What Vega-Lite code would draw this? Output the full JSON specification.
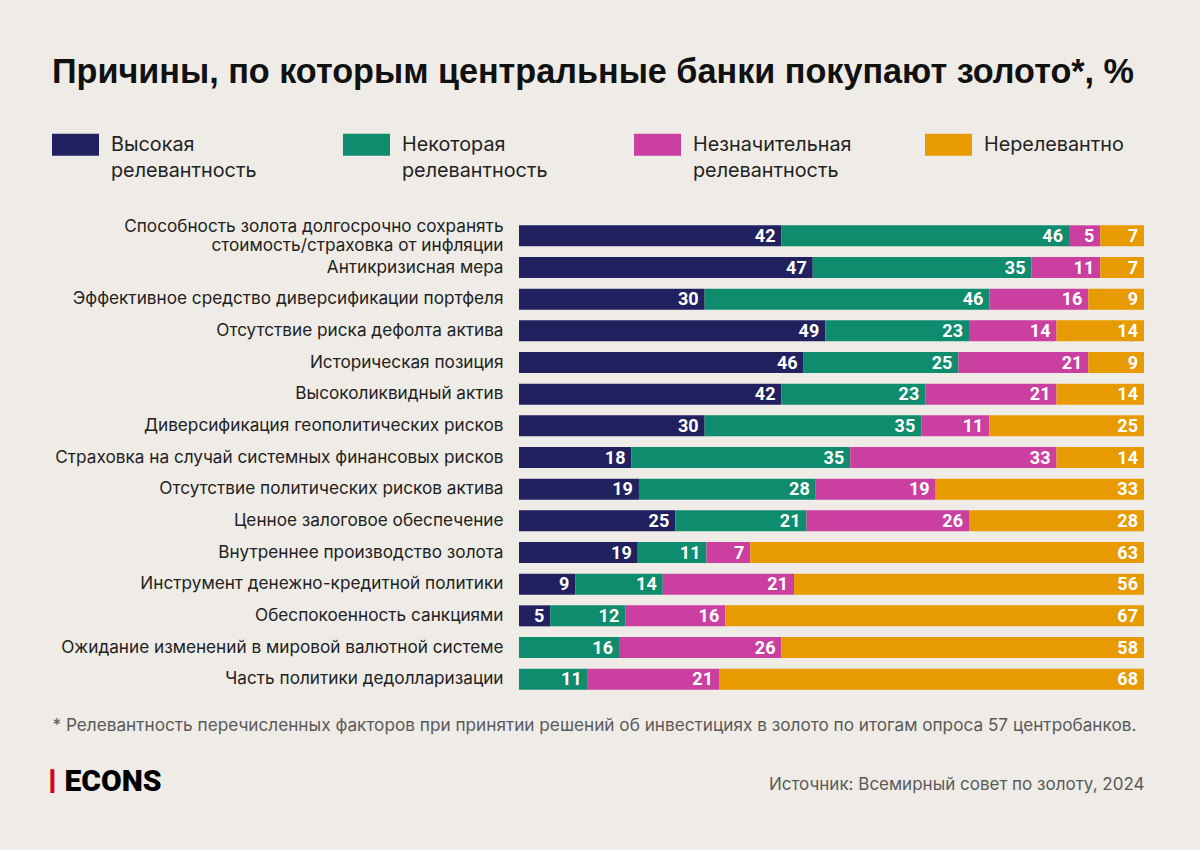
{
  "$schema": "https://vega.github.io/schema/vega-lite/v6.json",
  "width": 625,
  "height": 475,
  "autosize": {"type": "none"},
  "padding": {"left": 519, "top": 220, "right": 56, "bottom": 155},
  "background": "#efece7",
  "config": {"view": {"stroke": null}, "font": "Inter", "style": {"guide-label": {"lineHeight": 26}}},
  "title": {
    "text": "Причины, по которым центральные банки покупают золото*, %",
    "anchor": "start",
    "frame": "group",
    "dx": -467,
    "offset": 31,
    "fontSize": 34.2,
    "font": "Liberation Sans",
    "fontWeight": 700,
    "color": "#111111"
  },
  "data": {
    "values": [
      {"q": "Способность золота долгосрочно сохранять стоимость/страховка от инфляции", "c": "Высокая релевантность", "k": 1, "v": 42},
      {"q": "Способность золота долгосрочно сохранять стоимость/страховка от инфляции", "c": "Некоторая релевантность", "k": 2, "v": 46},
      {"q": "Способность золота долгосрочно сохранять стоимость/страховка от инфляции", "c": "Незначительная релевантность", "k": 3, "v": 5},
      {"q": "Способность золота долгосрочно сохранять стоимость/страховка от инфляции", "c": "Нерелевантно", "k": 4, "v": 7},
      {"q": "Антикризисная мера", "c": "Высокая релевантность", "k": 1, "v": 47},
      {"q": "Антикризисная мера", "c": "Некоторая релевантность", "k": 2, "v": 35},
      {"q": "Антикризисная мера", "c": "Незначительная релевантность", "k": 3, "v": 11},
      {"q": "Антикризисная мера", "c": "Нерелевантно", "k": 4, "v": 7},
      {"q": "Эффективное средство диверсификации портфеля", "c": "Высокая релевантность", "k": 1, "v": 30},
      {"q": "Эффективное средство диверсификации портфеля", "c": "Некоторая релевантность", "k": 2, "v": 46},
      {"q": "Эффективное средство диверсификации портфеля", "c": "Незначительная релевантность", "k": 3, "v": 16},
      {"q": "Эффективное средство диверсификации портфеля", "c": "Нерелевантно", "k": 4, "v": 9},
      {"q": "Отсутствие риска дефолта актива", "c": "Высокая релевантность", "k": 1, "v": 49},
      {"q": "Отсутствие риска дефолта актива", "c": "Некоторая релевантность", "k": 2, "v": 23},
      {"q": "Отсутствие риска дефолта актива", "c": "Незначительная релевантность", "k": 3, "v": 14},
      {"q": "Отсутствие риска дефолта актива", "c": "Нерелевантно", "k": 4, "v": 14},
      {"q": "Историческая позиция", "c": "Высокая релевантность", "k": 1, "v": 46},
      {"q": "Историческая позиция", "c": "Некоторая релевантность", "k": 2, "v": 25},
      {"q": "Историческая позиция", "c": "Незначительная релевантность", "k": 3, "v": 21},
      {"q": "Историческая позиция", "c": "Нерелевантно", "k": 4, "v": 9},
      {"q": "Высоколиквидный актив", "c": "Высокая релевантность", "k": 1, "v": 42},
      {"q": "Высоколиквидный актив", "c": "Некоторая релевантность", "k": 2, "v": 23},
      {"q": "Высоколиквидный актив", "c": "Незначительная релевантность", "k": 3, "v": 21},
      {"q": "Высоколиквидный актив", "c": "Нерелевантно", "k": 4, "v": 14},
      {"q": "Диверсификация геополитических рисков", "c": "Высокая релевантность", "k": 1, "v": 30},
      {"q": "Диверсификация геополитических рисков", "c": "Некоторая релевантность", "k": 2, "v": 35},
      {"q": "Диверсификация геополитических рисков", "c": "Незначительная релевантность", "k": 3, "v": 11},
      {"q": "Диверсификация геополитических рисков", "c": "Нерелевантно", "k": 4, "v": 25},
      {"q": "Страховка на случай системных финансовых рисков", "c": "Высокая релевантность", "k": 1, "v": 18},
      {"q": "Страховка на случай системных финансовых рисков", "c": "Некоторая релевантность", "k": 2, "v": 35},
      {"q": "Страховка на случай системных финансовых рисков", "c": "Незначительная релевантность", "k": 3, "v": 33},
      {"q": "Страховка на случай системных финансовых рисков", "c": "Нерелевантно", "k": 4, "v": 14},
      {"q": "Отсутствие политических рисков актива", "c": "Высокая релевантность", "k": 1, "v": 19},
      {"q": "Отсутствие политических рисков актива", "c": "Некоторая релевантность", "k": 2, "v": 28},
      {"q": "Отсутствие политических рисков актива", "c": "Незначительная релевантность", "k": 3, "v": 19},
      {"q": "Отсутствие политических рисков актива", "c": "Нерелевантно", "k": 4, "v": 33},
      {"q": "Ценное залоговое обеспечение", "c": "Высокая релевантность", "k": 1, "v": 25},
      {"q": "Ценное залоговое обеспечение", "c": "Некоторая релевантность", "k": 2, "v": 21},
      {"q": "Ценное залоговое обеспечение", "c": "Незначительная релевантность", "k": 3, "v": 26},
      {"q": "Ценное залоговое обеспечение", "c": "Нерелевантно", "k": 4, "v": 28},
      {"q": "Внутреннее производство золота", "c": "Высокая релевантность", "k": 1, "v": 19},
      {"q": "Внутреннее производство золота", "c": "Некоторая релевантность", "k": 2, "v": 11},
      {"q": "Внутреннее производство золота", "c": "Незначительная релевантность", "k": 3, "v": 7},
      {"q": "Внутреннее производство золота", "c": "Нерелевантно", "k": 4, "v": 63},
      {"q": "Инструмент денежно-кредитной политики", "c": "Высокая релевантность", "k": 1, "v": 9},
      {"q": "Инструмент денежно-кредитной политики", "c": "Некоторая релевантность", "k": 2, "v": 14},
      {"q": "Инструмент денежно-кредитной политики", "c": "Незначительная релевантность", "k": 3, "v": 21},
      {"q": "Инструмент денежно-кредитной политики", "c": "Нерелевантно", "k": 4, "v": 56},
      {"q": "Обеспокоенность санкциями", "c": "Высокая релевантность", "k": 1, "v": 5},
      {"q": "Обеспокоенность санкциями", "c": "Некоторая релевантность", "k": 2, "v": 12},
      {"q": "Обеспокоенность санкциями", "c": "Незначительная релевантность", "k": 3, "v": 16},
      {"q": "Обеспокоенность санкциями", "c": "Нерелевантно", "k": 4, "v": 67},
      {"q": "Ожидание изменений в мировой валютной системе", "c": "Некоторая релевантность", "k": 2, "v": 16},
      {"q": "Ожидание изменений в мировой валютной системе", "c": "Незначительная релевантность", "k": 3, "v": 26},
      {"q": "Ожидание изменений в мировой валютной системе", "c": "Нерелевантно", "k": 4, "v": 58},
      {"q": "Часть политики дедолларизации", "c": "Некоторая релевантность", "k": 2, "v": 11},
      {"q": "Часть политики дедолларизации", "c": "Незначительная релевантность", "k": 3, "v": 21},
      {"q": "Часть политики дедолларизации", "c": "Нерелевантно", "k": 4, "v": 68}
    ]
  },
  "transform": [
    {"stack": "v", "groupby": ["q"], "sort": [{"field": "k", "order": "ascending"}], "as": ["v0", "v1"], "offset": "normalize"}
  ],
  "layer": [
    {
      "mark": {"type": "bar"},
      "encoding": {
        "y": {
          "field": "q", "type": "nominal", "sort": null,
          "scale": {"paddingInner": 0.336, "paddingOuter": 0.168},
          "axis": {
            "orient": "left",
            "domain": false, "ticks": false, "grid": false,
            "labelFont": "Inter", "labelFontSize": 17.2, "labelColor": "#222222",
            "labelPadding": 16, "labelLimit": 520, "labelLineHeight": 19,
            "labelOffset": {"expr": "datum.value == 'Способность золота долгосрочно сохранять стоимость/страховка от инфляции' ? -9 : 0"},
            "labelExpr": "datum.label == 'Способность золота долгосрочно сохранять стоимость/страховка от инфляции' ? ['Способность золота долгосрочно сохранять', 'стоимость/страховка от инфляции'] : datum.label",
            "title": "ECONS",
            "titleAngle": 0, "titleX": -455, "titleY": 561,
            "titleAlign": "left", "titleBaseline": "middle",
            "titleFont": "Roboto", "titleFontSize": 30, "titleFontWeight": 900, "titleColor": "#000000"
          }
        },
        "x": {
          "field": "v0", "type": "quantitative",
          "scale": {"domain": [0, 1]},
          "axis": {
            "orient": "bottom",
            "labels": false, "ticks": false, "domain": false, "grid": false,
            "title": "* Релевантность перечисленных факторов при принятии решений об инвестициях в золото по итогам опроса 57 центробанков.",
            "titleX": -467, "titleY": 30, "titleAlign": "left", "titleAnchor": null,
            "titleBaseline": "middle", "titleFont": "Inter", "titleFontSize": 17.2,
            "titleFontWeight": "normal", "titleColor": "#5a5a5a"
          }
        },
        "x2": {"field": "v1"},
        "color": {
          "field": "c", "type": "nominal",
          "scale": {
            "domain": ["Высокая релевантность", "Некоторая релевантность", "Незначительная релевантность", "Нерелевантно"],
            "range": ["#222160", "#0f8b6d", "#ca3f9f", "#e89a01"]
          },
          "legend": {
            "orient": "none", "legendX": -467, "legendY": -99,
            "direction": "horizontal", "columns": 4, "gridAlign": "all", "columnPadding": 73,
            "title": null,
            "symbolType": "M-1,-0.468H1V0.468H-1Z", "symbolSize": 2209, "symbolStrokeWidth": 0, "symbolOpacity": 1,
            "labelFont": "Inter", "labelFontSize": 19.8, "labelColor": "#222222", "labelOffset": 12,
            "labelLimit": 300,
            "labelExpr": "datum.label == 'Нерелевантно' ? ['Нерелевантно', ' '] : split(datum.label, ' ')"
          }
        }
      }
    },
    {
      "mark": {"type": "text", "align": "right", "baseline": "middle", "dx": -6, "dy": 1, "color": "#ffffff", "fontWeight": 700, "fontSize": 18, "font": "Roboto"},
      "encoding": {
        "y": {
          "field": "q", "type": "nominal", "sort": null,
          "scale": {"paddingInner": 0.336, "paddingOuter": 0.168},
          "axis": {
            "orient": "right",
            "domain": false, "ticks": false, "grid": false, "labels": false,
            "title": "▎",
            "titleAngle": 0, "titleX": -1094, "titleY": 561,
            "titleAlign": "left", "titleBaseline": "middle",
            "titleFont": "DejaVu Sans", "titleFontSize": 20, "titleFontWeight": "normal", "titleColor": "#d6001c"
          }
        },
        "x": {
          "field": "v1", "type": "quantitative",
          "scale": {"domain": [0, 1]},
          "axis": {
            "orient": "top",
            "labels": false, "ticks": false, "domain": false, "grid": false,
            "title": "Источник: Всемирный совет по золоту, 2024",
            "titleX": 625, "titleY": 564, "titleAlign": "right", "titleAnchor": null,
            "titleBaseline": "middle", "titleFont": "Inter", "titleFontSize": 17,
            "titleFontWeight": "normal", "titleColor": "#5a5a5a"
          }
        },
        "text": {"field": "v", "type": "quantitative"}
      }
    }
  ],
  "resolve": {"scale": {"x": "independent", "y": "independent"}}
}
